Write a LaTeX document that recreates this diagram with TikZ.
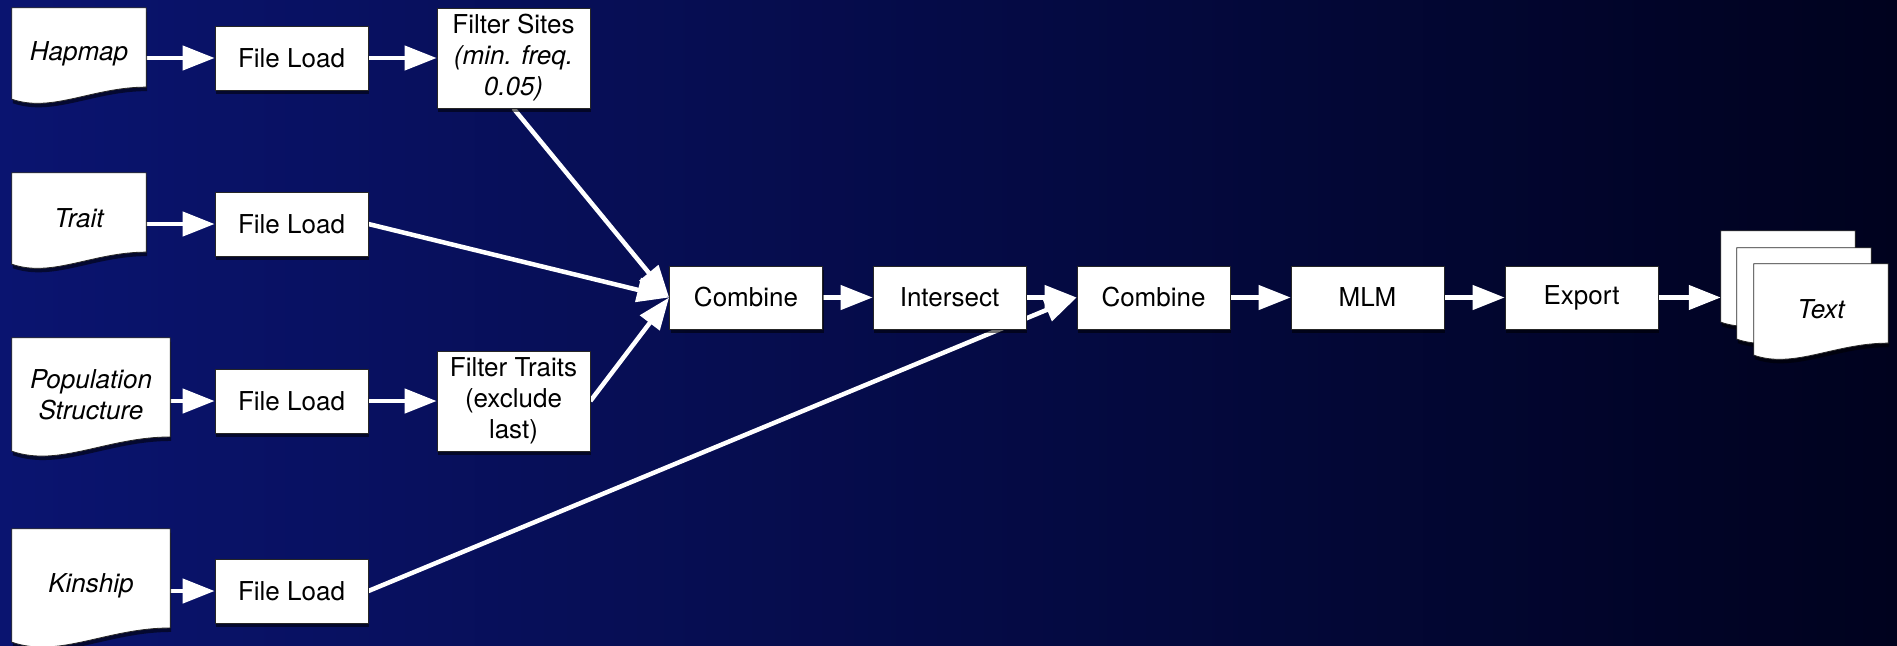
\documentclass[tikz,border=0pt]{standalone}
\usepackage{fontspec}
\setmainfont{TeX Gyre Heros}
\usetikzlibrary{arrows.meta,calc,shadows}

\pgfdeclarelayer{back}
\pgfdeclarelayer{edges}
\pgfdeclarelayer{docs}
\pgfsetlayers{back,edges,docs,main}

\definecolor{bgleft}{RGB}{10,20,112}
\definecolor{bgmid}{RGB}{4,10,78}
\definecolor{bgright}{RGB}{0,2,30}

\begin{document}
\begin{tikzpicture}[x=1pt, y=-1pt, font=\fontsize{26}{31}\selectfont,
	dropshade/.style={drop shadow={shadow xshift=1pt, shadow yshift=-4pt, fill=black, opacity=0.55}},
	box/.style={rectangle, fill=white, draw=black!85, line width=0.8pt, inner sep=0pt, minimum width=153pt, minimum height=64pt, align=center, dropshade},
	tallbox/.style={box, minimum height=100pt},
	doc/.style={rectangle, inner sep=0pt, minimum width=134pt, minimum height=91pt, align=center, font=\fontsize{26}{31}\selectfont\itshape},
	bigdoc/.style={doc, minimum width=158pt, minimum height=113pt},
	link/.style={white, line width=4.5pt, -{Triangle[length=32pt, width=24pt]}}]

\begin{pgfonlayer}{back}
	\shade[left color=bgleft, middle color=bgmid, right color=bgright] (0,0) rectangle (1897,645);
\end{pgfonlayer}
\useasboundingbox (0,0) rectangle (1897,645);

% inputs
\node[doc] (hapmap) at (79,53.5) {Hapmap};
\node[doc] (trait) at (79,218.5) {Trait};
\node[bigdoc] (popstr) at (91,394.5) {Population\\Structure};
\node[bigdoc] (kinship) at (91,585.5) {Kinship};

\node[box] (fl1) at (291.5,58) {File Load};
\node[box] (fl2) at (291.5,224) {File Load};
\node[box] (fl3) at (291.5,401) {File Load};
\node[box] (fl4) at (291.5,591) {File Load};

\node[tallbox] (fsites) at (513.5,58) {Filter Sites\\\textit{(min. freq.}\\\textit{0.05)}};
\node[tallbox] (ftraits) at (513.5,401) {Filter Traits\\(exclude\\last)};

% main chain
\node[box, minimum height=63pt] (comb1) at (746,297.5) {Combine};
\node[box, minimum height=63pt] (isect) at (949.5,297.5) {Intersect};
\node[box, minimum height=63pt] (comb2) at (1153.5,297.5) {Combine};
\node[box, minimum height=63pt] (mlm) at (1367.5,297.5) {MLM};
\node[box, minimum height=63pt] (export) at (1581.5,297.5) {Export};

% output stack
\node[doc] (textc) at (1788,276.5) {};
\node[doc] (textb) at (1804,293.5) {};
\node[doc] (texta) at (1821,309.5) {Text};

\begin{pgfonlayer}{docs}
	\foreach \nm in {hapmap,trait,popstr,kinship,textc,textb,texta}
		\filldraw[fill=white, draw=black!85, line width=0.8pt, dropshade] let \p1=(\nm.south west), \p2=(\nm.south east), \n1={\x2-\x1} in
			(\nm.north west) -- (\nm.north east) -- (\x2,\y2+0.09*\n1)
			.. controls (\x2-0.4*\n1,\y2+0.09*\n1) and (\x1+0.3*\n1,\y1-0.104*\n1) .. (\p1) -- cycle;
\end{pgfonlayer}

\begin{pgfonlayer}{edges}
	\draw[link] (hapmap.east |- fl1.west) -- (fl1.west);
	\draw[link] (trait.east |- fl2.west) -- (fl2.west);
	\draw[link] (popstr.east |- fl3.west) -- (fl3.west);
	\draw[link] (kinship.east |- fl4.west) -- (fl4.west);
	\draw[link] (fl1) -- (fsites);
	\draw[link] (fl3) -- (ftraits);
	\draw[link] (fsites.south) -- (comb1.west);
	\draw[link] (fl2.east) -- (comb1.west);
	\draw[link] (ftraits.east) -- (comb1.west);
	\draw[link] (comb1) -- (isect);
	\draw[link] (isect) -- (comb2);
	\draw[link] (fl4.east) -- (comb2.west);
	\draw[link] (comb2) -- (mlm);
	\draw[link] (mlm) -- (export);
	\draw[link] (export.east) -- (export.east -| textc.west);
\end{pgfonlayer}
\end{tikzpicture}
\end{document}
